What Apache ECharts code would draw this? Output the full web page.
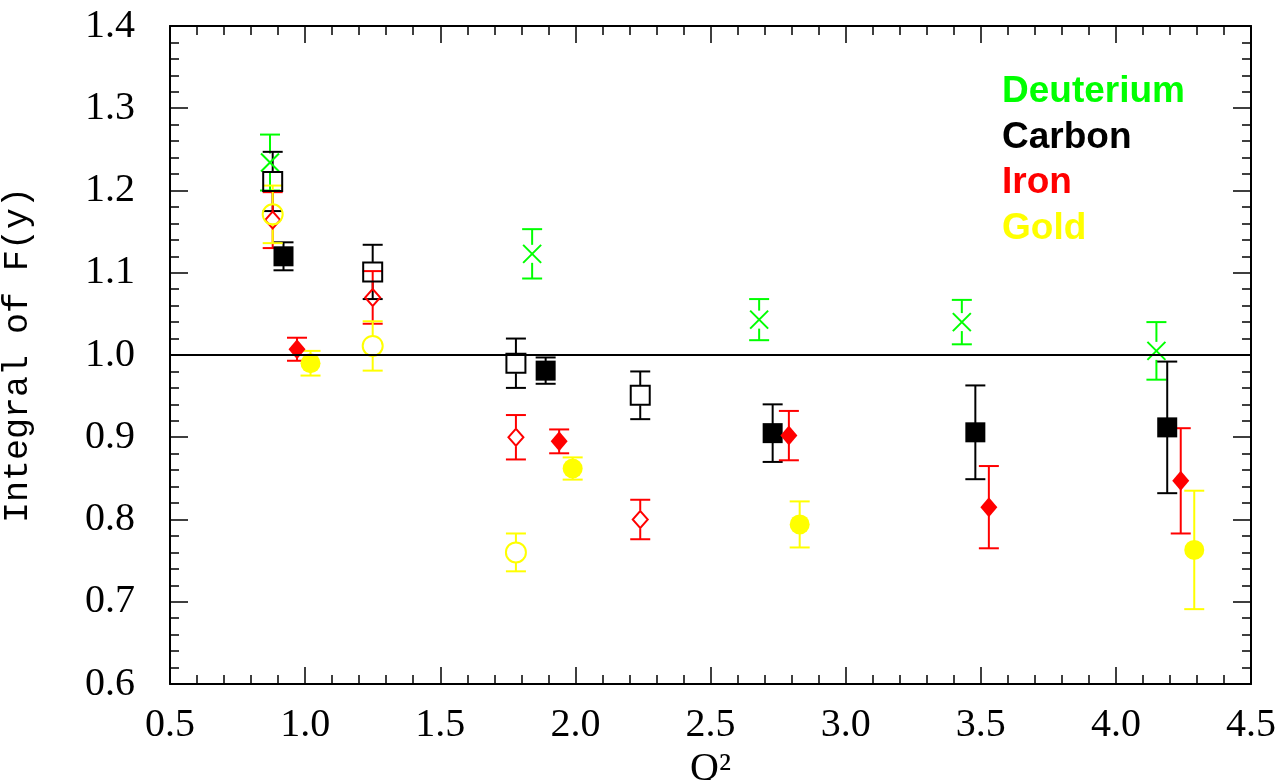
<!DOCTYPE html>
<html>
<head>
<meta charset="utf-8">
<script src="https://cdn.jsdelivr.net/npm/echarts@6/dist/echarts.min.js"></script>
<style>
  html, body { margin: 0; padding: 0; background: #fff; }
  #chart { width: 1288px; height: 780px; }
</style>
</head>
<body>
<div id="chart"></div>
<script>
// axis ticks
var xTicks = [0.5, 1.0, 1.5, 2.0, 2.5, 3.0, 3.5, 4.0, 4.5];
var yTicks = [0.6, 0.7, 0.8, 0.9, 1.0, 1.1, 1.2, 1.3, 1.4];

// Deuterium (crosses)
var deutQ2  = [0.87, 1.84, 2.68, 3.43, 4.15];
var deutVal = [1.234, 1.123, 1.043, 1.040, 1.005];
var deutErr = [0.034, 0.030, 0.025, 0.027, 0.035];

// Carbon, open squares
var carbOpenQ2  = [0.88, 1.25, 1.78, 2.24];
var carbOpenVal = [1.211, 1.101, 0.990, 0.951];
var carbOpenErr = [0.036, 0.033, 0.030, 0.029];
// Carbon, filled squares
var carbFillQ2  = [0.92, 1.89, 2.73, 3.48, 4.19];
var carbFillVal = [1.120, 0.981, 0.905, 0.906, 0.912];
var carbFillErr = [0.017, 0.016, 0.035, 0.057, 0.080];

// Iron, open diamonds
var ironOpenQ2  = [0.88, 1.25, 1.78, 2.24];
var ironOpenVal = [1.164, 1.070, 0.900, 0.800];
var ironOpenErr = [0.034, 0.032, 0.027, 0.024];
// Iron, filled diamonds
var ironFillQ2  = [0.97, 1.94, 2.79, 3.53, 4.24];
var ironFillVal = [1.007, 0.895, 0.902, 0.815, 0.847];
var ironFillErr = [0.014, 0.0145, 0.030, 0.050, 0.064];

// Gold, open circles
var goldOpenQ2  = [0.88, 1.25, 1.78];
var goldOpenVal = [1.171, 1.011, 0.760];
var goldOpenErr = [0.035, 0.030, 0.023];
// Gold, filled circles
var goldFillQ2  = [1.02, 1.99, 2.83, 4.29];
var goldFillVal = [0.990, 0.862, 0.794, 0.763];
var goldFillErr = [0.015, 0.0135, 0.028, 0.072];

var GREEN = '#00ff00', BLACK = '#000000', RED = '#ff0000', YELLOW = '#ffff00';

function pts(q, v, e) {
    var out = [];
    for (var i = 0; i < q.length; i++) out.push([q[i], v[i], e[i]]);
    return out;
}

// error bar with a gap where the marker sits
function errBars(data, color, gap) {
    return {
        type: 'custom',
        silent: true,
        z: 3,
        data: data,
        encode: { x: 0, y: 1 },
        renderItem: function (params, api) {
            var x = api.value(0), y = api.value(1), e = api.value(2);
            var p = api.coord([x, y]);
            var t = api.coord([x, y + e]);
            var b = api.coord([x, y - e]);
            var w = 10;
            var st = { stroke: color, lineWidth: 2 };
            var kids = [
                { type: 'line', shape: { x1: t[0] - w, y1: t[1], x2: t[0] + w, y2: t[1] }, style: st },
                { type: 'line', shape: { x1: b[0] - w, y1: b[1], x2: b[0] + w, y2: b[1] }, style: st }
            ];
            if (p[1] - gap > t[1]) kids.push({ type: 'line', shape: { x1: p[0], y1: t[1], x2: p[0], y2: p[1] - gap }, style: st });
            if (p[1] + gap < b[1]) kids.push({ type: 'line', shape: { x1: p[0], y1: p[1] + gap, x2: p[0], y2: b[1] }, style: st });
            return { type: 'group', children: kids };
        }
    };
}

function marks(data, color, symbol, size, filled) {
    return {
        type: 'scatter',
        silent: true,
        z: 4,
        data: data,
        symbol: symbol,
        symbolSize: size,
        itemStyle: filled
            ? { color: color, opacity: 1 }
            : { color: 'transparent', borderColor: color, borderWidth: 2, opacity: 1 }
    };
}

var cross = 'path://M0,0L20,20M20,0L0,20';

var series = [
    // reference line at 1.0
    {
        type: 'line',
        data: [],
        markLine: {
            silent: true,
            symbol: 'none',
            label: { show: false },
            lineStyle: { color: '#000', width: 2, type: 'solid' },
            data: [{ yAxis: 1.0 }]
        }
    },
    errBars(pts(deutQ2, deutVal, deutErr), GREEN, 9),
    marks(pts(deutQ2, deutVal, deutErr), GREEN, cross, 18, false),
    errBars(pts(carbOpenQ2, carbOpenVal, carbOpenErr), BLACK, 10),
    marks(pts(carbOpenQ2, carbOpenVal, carbOpenErr), BLACK, 'rect', 19, false),
    errBars(pts(carbFillQ2, carbFillVal, carbFillErr), BLACK, 0),
    marks(pts(carbFillQ2, carbFillVal, carbFillErr), BLACK, 'rect', 20, true),
    errBars(pts(ironOpenQ2, ironOpenVal, ironOpenErr), RED, 9),
    marks(pts(ironOpenQ2, ironOpenVal, ironOpenErr), RED, 'diamond', [15, 17], false),
    errBars(pts(ironFillQ2, ironFillVal, ironFillErr), RED, 0),
    marks(pts(ironFillQ2, ironFillVal, ironFillErr), RED, 'diamond', [17, 20], true),
    errBars(pts(goldOpenQ2, goldOpenVal, goldOpenErr), YELLOW, 10),
    marks(pts(goldOpenQ2, goldOpenVal, goldOpenErr), YELLOW, 'circle', 20, false),
    errBars(pts(goldFillQ2, goldFillVal, goldFillErr), YELLOW, 0),
    marks(pts(goldFillQ2, goldFillVal, goldFillErr), YELLOW, 'circle', 20, true)
];

var tickFont = { fontFamily: 'Liberation Serif', fontSize: 40, color: '#000' };

var chart = echarts.init(document.getElementById('chart'), null, { renderer: 'canvas' });
chart.setOption({
    animation: false,
    backgroundColor: '#fff',
    grid: { left: 170, right: 37, top: 26, bottom: 96, containLabel: false, outerBoundsMode: 'none' },
    xAxis: [{
        type: 'value', min: 0.5, max: 4.5, interval: 0.5,
        name: 'Q\u00b2', nameLocation: 'middle', nameGap: 62,
        nameTextStyle: { fontFamily: 'Liberation Serif', fontSize: 40, color: '#000' },
        axisLine: { show: true, lineStyle: { color: '#000', width: 2 } },
        axisTick: { inside: true, length: 17, lineStyle: { color: '#000', width: 1.5 } },
        minorTick: { show: true, splitNumber: 5, length: 9, lineStyle: { color: '#000', width: 1.5 } },
        splitLine: { show: false },
        axisLabel: Object.assign({ margin: 21, formatter: function (v) { return v.toFixed(1); } }, tickFont)
    }, {
        type: 'value', min: 0.5, max: 4.5, interval: 0.5, position: 'top',
        axisLine: { show: true, lineStyle: { color: '#000', width: 2 } },
        axisTick: { inside: true, length: 17, lineStyle: { color: '#000', width: 1.5 } },
        minorTick: { show: true, splitNumber: 5, length: 9, lineStyle: { color: '#000', width: 1.5 } },
        splitLine: { show: false },
        axisLabel: { show: false }
    }],
    yAxis: [{
        type: 'value', min: 0.6, max: 1.4, interval: 0.1,
        name: 'Integral of F(y)', nameLocation: 'middle', nameGap: 135,
        nameTextStyle: { fontFamily: 'Liberation Mono', fontSize: 35, color: '#000' },
        axisLine: { show: true, lineStyle: { color: '#000', width: 2 } },
        axisTick: { inside: true, length: 18, lineStyle: { color: '#000', width: 1.5 } },
        minorTick: { show: true, splitNumber: 5, length: 9, lineStyle: { color: '#000', width: 1.5 } },
        splitLine: { show: false },
        axisLabel: Object.assign({ margin: 35, formatter: function (v) { return v.toFixed(1); } }, tickFont)
    }, {
        type: 'value', min: 0.6, max: 1.4, interval: 0.1, position: 'right',
        axisLine: { show: true, lineStyle: { color: '#000', width: 2 } },
        axisTick: { inside: true, length: 18, lineStyle: { color: '#000', width: 1.5 } },
        minorTick: { show: true, splitNumber: 5, length: 9, lineStyle: { color: '#000', width: 1.5 } },
        splitLine: { show: false },
        axisLabel: { show: false }
    }],
    graphic: [
        { type: 'text', left: 1002, top: 73, style: { text: 'Deuterium', fill: GREEN, font: 'bold 37px "Liberation Sans"' } },
        { type: 'text', left: 1002, top: 119, style: { text: 'Carbon', fill: BLACK, font: 'bold 37px "Liberation Sans"' } },
        { type: 'text', left: 1002, top: 164, style: { text: 'Iron', fill: RED, font: 'bold 37px "Liberation Sans"' } },
        { type: 'text', left: 1002, top: 210, style: { text: 'Gold', fill: YELLOW, font: 'bold 37px "Liberation Sans"' } }
    ],
    series: series
});
</script>
</body>
</html>
